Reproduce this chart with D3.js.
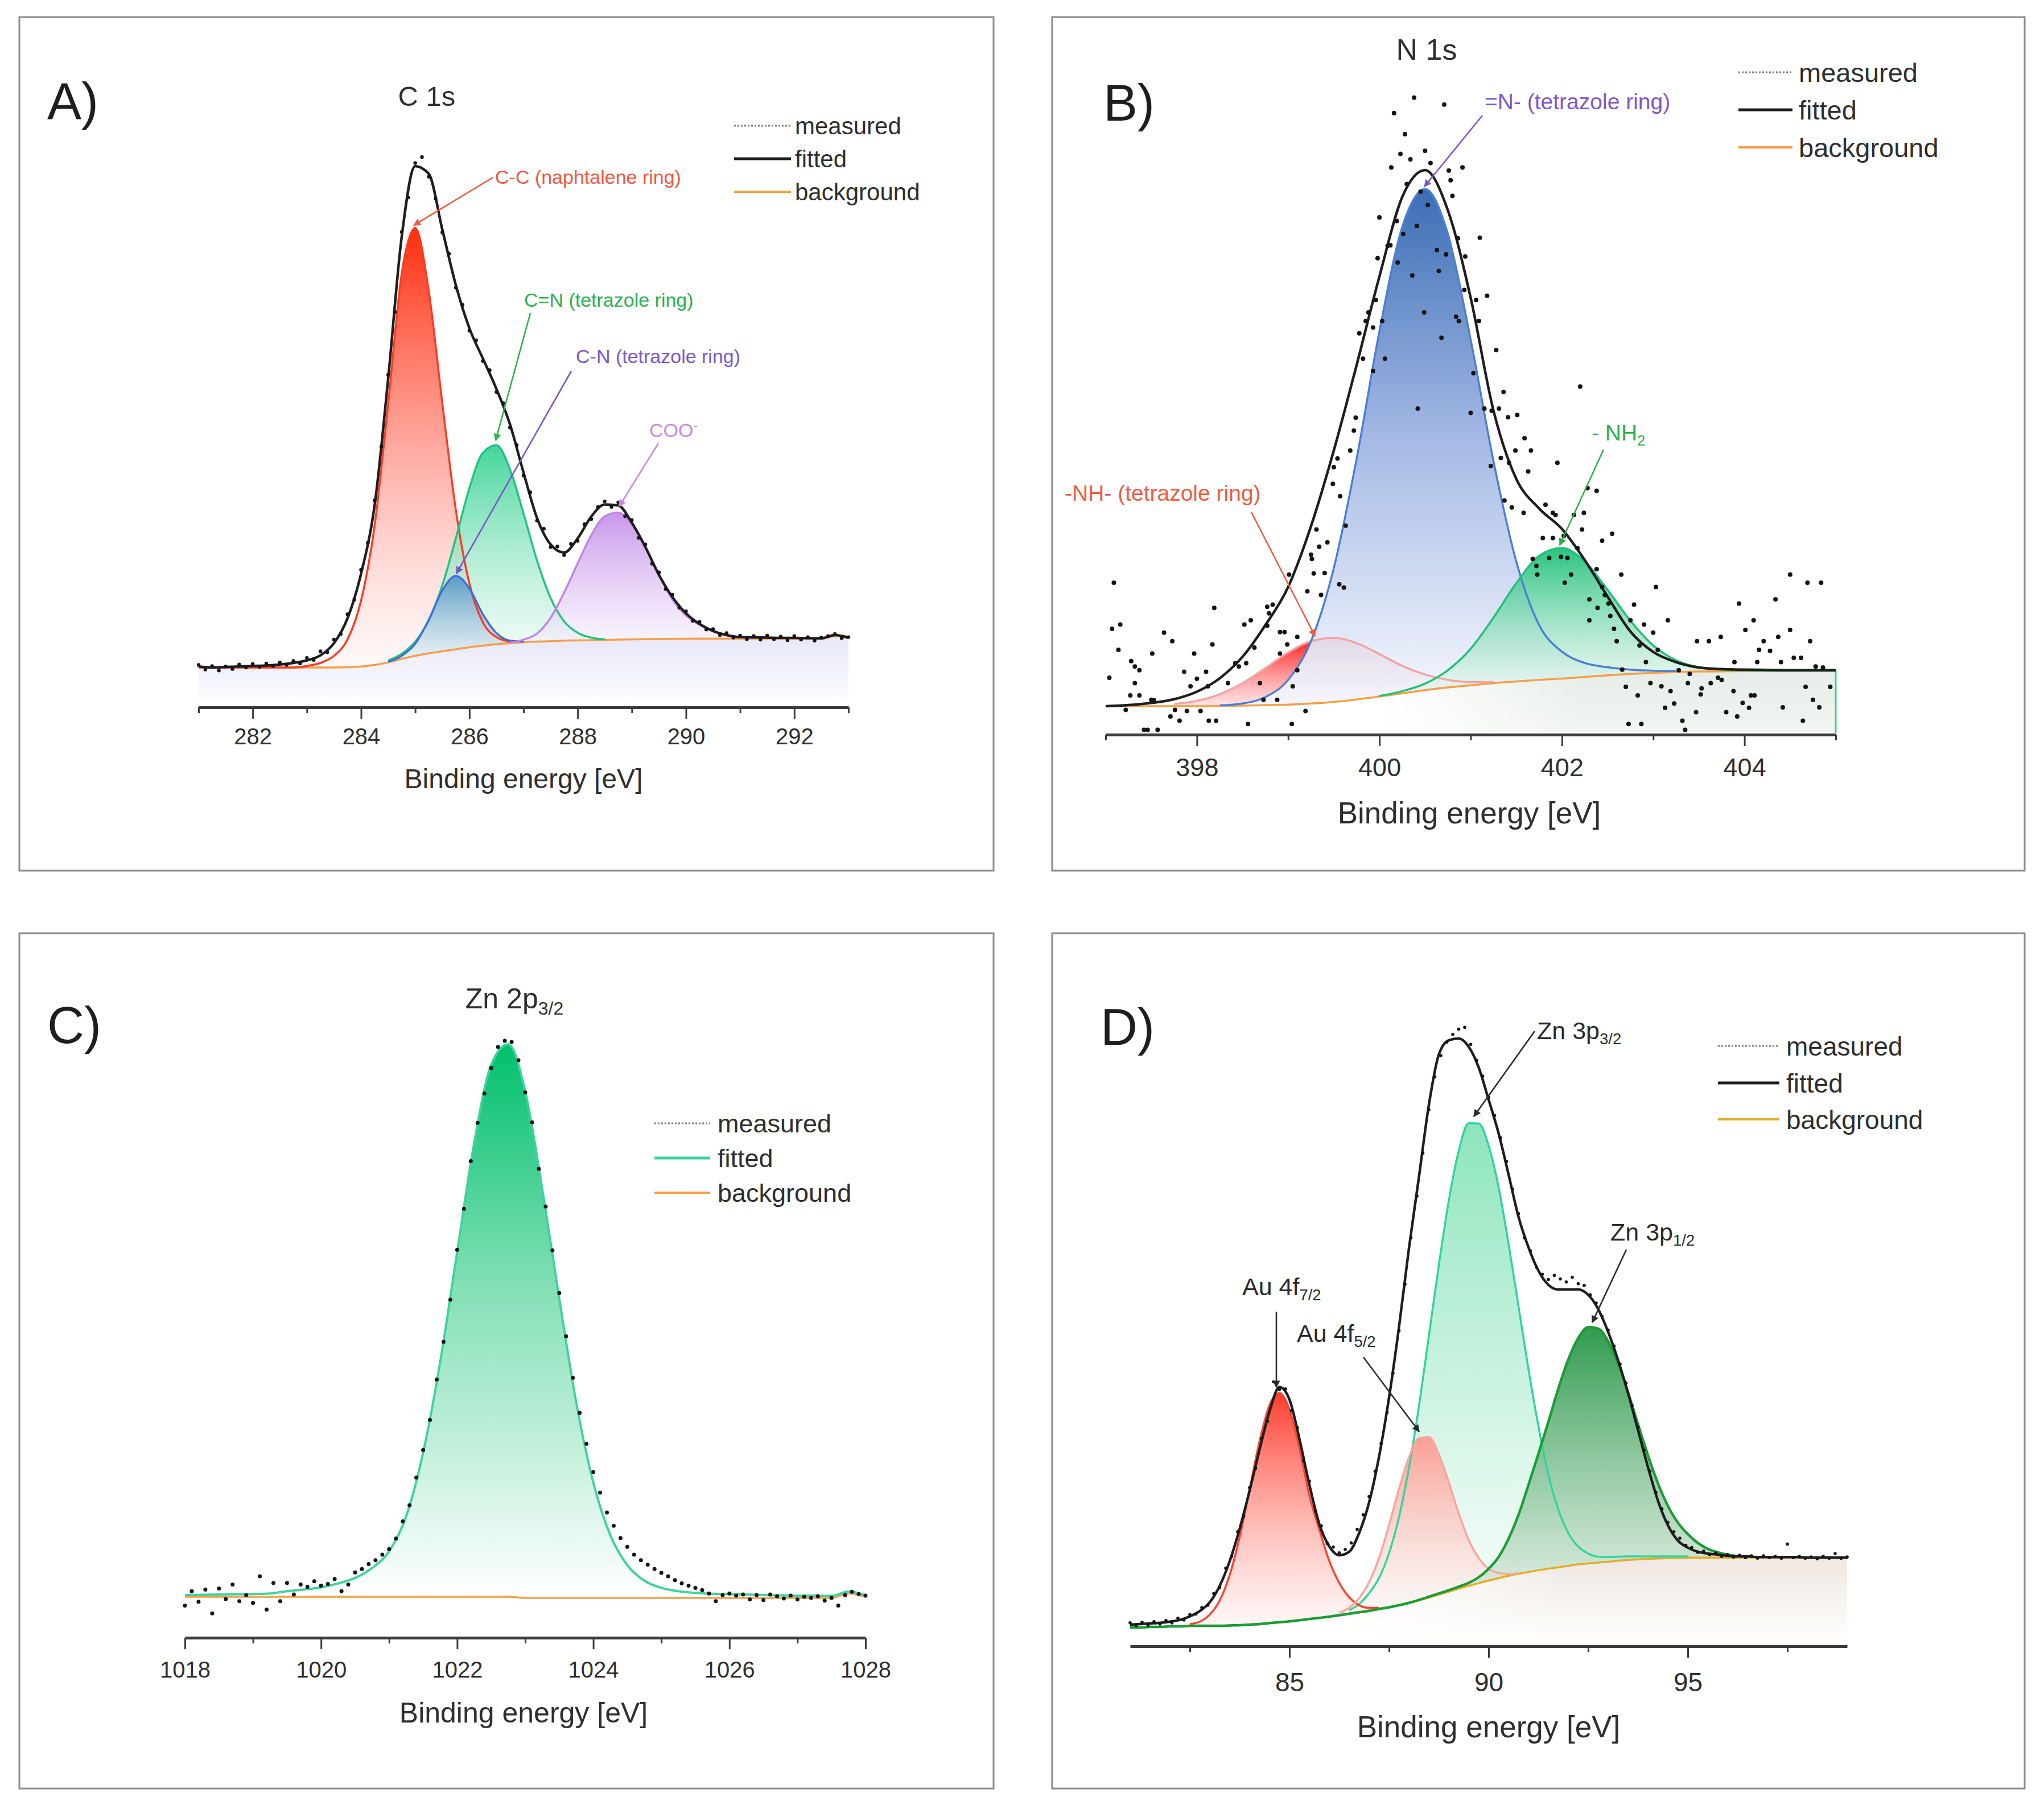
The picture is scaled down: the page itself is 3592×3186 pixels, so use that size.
<!DOCTYPE html>
<html>
<head>
<meta charset="utf-8">
<script src="https://cdn.jsdelivr.net/npm/d3@7"></script>
<style>
  body { margin: 0; background: #fff; }
  svg { display: block; }
</style>
</head>
<body>
<svg id="mainsvg" width="3592" height="3186"></svg>
<script>
// ---------------- A) C 1s ----------------
let c1sStart = 281, c1sStep = 0.25;
let c1sBackground = [0, 0, 0, 0, 0, 0, 0, 0, 0, 0, 0, 0.05,
  0.2, 0.5, 1.0, 1.7, 2.3, 2.8, 3.2, 3.6, 4.0, 4.3, 4.6, 4.8, 5.0, 5.1, 5.2, 5.3, 5.35, 5.4, 5.45, 5.5,
  5.55, 5.6, 5.62, 5.65, 5.68, 5.7, 5.7, 5.7, 5.7, 5.7, 5.7, 5.7, 5.7, 5.7, 5.7, 6.2, 5.8];
let c1sFitted = [0.2, 0.0, 0.1, 0.2, 0.3, 0.4, 0.6, 0.9, 1.4, 2.4, 4.8, 9.7, 18.5, 32, 57, 85, 99, 97.5,
  86.5, 75.5, 67, 61, 55, 48, 38.5, 29.5, 24.3, 22.7, 25.5, 29.8, 32.2, 32.0, 28.6, 23.8, 18.3, 13.9,
  10.7, 8.6, 7.2, 6.4, 6.0, 5.95, 5.9, 5.85, 5.85, 5.8, 5.75, 6.4, 5.9];
let c1sPeaks = [
  {name: "C-C", start: 281.0, values: [0, 0, 0, 0, 0, 0, 0, 0,
    0.3, 0.9, 2.3, 5.5, 13, 27.5, 51, 76, 84.5, 71.5, 49, 27.5, 12.6, 4.6, 1.4, 0.3]},
  {name: "C=N", start: 284.5, values: [0.4, 1.0, 2.8, 6.5, 13.0, 21.9, 31.4, 38.1, 39.3, 34.3, 25.4, 16.0, 8.5, 3.8, 1.5, 0.5, 0.1]},
  {name: "C-N", start: 284.5, values: [0.1, 0.6, 2.4, 6.6, 12.0, 14.5, 11.6, 6.2, 2.2, 0.5, 0.1]},
  {name: "COO", start: 286.75, values: [0.1, 0.5, 1.6, 4.6, 9.5, 15.2, 20.7, 24.4, 25.1, 22.7, 18.1, 12.7, 7.8, 4.6, 2.7, 1.5, 0.7, 0.3, 0.1]}
];
let c1sMeasuredStart = 281, c1sMeasuredStep = 0.125;
let c1sMeasured = [0.5, -0.4, 0.3, -0.6, 0.2, -0.3, 0.6, 0.0, 0.7, 0.1,
  0.8, 0.3, 1.0, 0.5, 1.3, 0.8, 1.9, 1.5, 3.2, 3.0,
  5.5, 6.6, 10.5, 13.4, 19.3, 24.6, 33.0, 43.6, 57.8, 70.2,
  86.0, 92.8, 99.6, 100.8, 96.9, 92.6, 85.9, 81.7, 75.0, 71.6,
  66.5, 64.6, 60.5, 58.7, 54.4, 52.2, 47.4, 43.9, 37.9, 34.6,
  29.0, 27.4, 23.8, 23.9, 22.2, 24.4, 25.0, 28.3, 29.3, 31.7,
  32.8, 31.7, 32.6, 29.9, 29.1, 25.6, 24.3, 20.5, 18.8, 15.5,
  14.4, 11.8, 11.1, 9.2, 9.0, 7.5, 7.6, 6.4, 6.8, 5.9,
  6.3, 5.6, 6.2, 5.5, 6.3, 5.6, 6.1, 5.4, 6.2, 5.5,
  6.0, 5.3, 5.9, 6.2, 6.6, 5.8, 6.0];

// ---------------- B) N 1s ----------------
let n1sStart = 397, n1sStep = 0.25;
let n1sBackground = [0, 0, 0, 0, 0, 0.05, 0.1, 0.2, 0.3, 0.5, 0.8, 1.25, 1.8, 2.4, 3.0, 3.5, 3.9, 4.3,
  4.6, 4.9, 5.15, 5.45, 5.75, 6.0, 6.2, 6.35, 6.45, 6.5, 6.55, 6.6, 6.6, 6.6, 6.6];
let n1sFitted = [0.0, 0.2, 0.6, 1.3, 2.7, 5.2, 9.2, 15.1, 22.2, 33.5, 47.6, 63.5, 80.0, 94.8, 99.8, 92.3,
  76.0, 55.0, 42.3, 36.8, 33.0, 27.2, 20.4, 13.9, 10.1, 8.2, 7.2, 6.9, 6.8, 6.75, 6.7, 6.7, 6.7];
let n1sPeaks = [
  {name: "-NH-", start: 397.75, values: [0.4, 1.0, 2.2, 4.2, 6.9, 9.7, 11.6, 11.9, 10.5, 7.9, 5.1, 2.9, 1.4, 0.6, 0.2]},
  {name: "=N-", start: 398.25, values: [0.1, 0.4, 1.5, 4.6, 11.6, 24.9, 44.8, 68.0, 86.8, 93.3, 84.4, 64.3, 41.3, 22.3, 10.2, 5.0, 2.6, 1.5, 0.8, 0.4, 0.2]},
  {name: "-NH2", start: 400.0, values: [0.1, 0.4, 1.2, 3.2, 6.8, 12.2, 18.3, 23.1, 24.3, 21.5, 15.9, 9.9, 5.1, 2.2, 0.8, 0.3, 0.1,
    0, 0, 0, 0]}
];
let n1sMeasured = [
  [400.38, 113.3], [400.71, 112.0], [400.16, 110.4], [400.28, 106.5], [400.23, 102.8], [400.34, 101.8],
  [400.50, 103.4], [400.56, 101.1], [400.13, 100.3], [400.76, 99.7], [400.91, 100.3], [400.78, 97.9],
  [400.30, 97.2], [400.80, 95.0], [400.45, 95.8], [400.53, 93.3], [400.00, 91.0], [400.19, 90.3],
  [400.41, 89.4], [400.26, 87.9], [400.86, 87.1], [400.09, 85.7], [400.12, 85.8], [400.63, 84.9],
  [400.73, 84.1], [400.94, 83.7], [399.98, 83.4], [400.20, 82.6], [400.65, 81.0], [400.36, 80.2],
  [400.93, 77.5], [399.96, 75.6], [399.88, 73.3], [399.85, 71.7], [400.49, 73.3], [400.84, 72.5],
  [400.87, 71.7], [400.03, 71.7], [399.93, 70.5], [399.78, 69.4], [400.68, 68.6], [399.82, 64.7],
  [400.06, 64.7], [399.93, 62.4], [401.03, 62.0], [400.42, 55.4], [401.00, 54.6], [399.74, 53.7],
  [399.72, 51.3], [399.68, 47.6], [399.54, 46.1], [399.50, 44.5], [399.49, 41.4], [399.57, 39.1],
  [399.63, 33.6], [399.31, 32.9], [399.43, 30.5], [399.34, 29.7], [399.25, 28.2], [399.26, 27.4],
  [399.28, 24.7], [399.40, 24.8], [399.01, 24.5], [399.56, 22.7], [399.61, 22.1], [397.09, 23.0],
  [399.21, 21.4], [399.36, 20.7], [398.19, 18.3], [398.77, 18.5], [398.83, 18.9], [398.79, 17.3],
  [398.59, 16.0], [398.52, 15.2], [397.16, 15.2], [397.07, 14.4], [398.77, 15.0], [397.64, 13.7],
  [397.73, 12.1], [398.96, 13.8], [398.91, 13.8], [398.63, 10.9], [399.10, 12.9], [398.17, 11.5],
  [398.99, 11.5], [397.14, 10.5], [397.51, 9.8], [397.97, 9.8], [398.91, 9.8], [398.54, 8.0],
  [397.28, 8.4], [397.32, 7.4], [398.42, 8.0], [398.46, 7.4], [397.37, 6.7], [397.86, 6.4],
  [398.10, 6.4], [399.10, 6.7], [397.04, 5.3], [398.00, 5.1], [398.12, 3.7], [398.34, 4.3],
  [398.69, 4.3], [397.32, 4.3], [397.93, 3.7], [399.05, 3.7], [397.27, 2.0], [397.37, 2.0],
  [397.50, 1.2], [397.53, 1.1], [398.73, 1.2], [398.88, 1.2], [397.22, -0.7], [397.76, -0.7],
  [397.89, -0.9], [398.04, -0.9], [399.19, -0.9], [397.71, -1.9], [397.81, -2.7], [398.13, -2.7],
  [398.21, -2.7], [398.56, -3.3], [399.04, -3.3], [397.42, -4.4], [397.46, -4.4], [397.57, -4.4],
  [401.10, 87.2], [401.06, 75.6], [401.18, 76.4], [401.09, 71.7], [401.28, 66.3], [401.36, 58.5],
  [402.20, 59.5], [401.15, 55.4], [401.23, 55.0], [401.31, 55.4], [401.41, 53.8], [401.51, 54.2],
  [401.59, 49.9], [401.49, 47.6], [401.66, 47.6], [401.22, 44.7], [401.33, 46.2], [401.42, 45.3],
  [401.63, 43.7], [401.95, 45.3], [402.28, 40.6], [402.38, 40.1], [401.37, 38.3], [401.45, 37.0],
  [401.58, 36.0], [401.82, 37.5], [401.90, 36.0], [401.93, 35.6], [402.13, 35.6], [402.24, 36.0],
  [402.22, 32.9], [402.55, 32.1], [402.44, 30.8], [401.79, 31.3], [401.90, 31.3], [402.02, 31.7],
  [402.17, 29.4], [401.68, 27.4], [401.86, 27.6], [401.99, 27.8], [402.06, 27.6], [401.72, 26.1],
  [402.10, 24.5], [402.65, 24.5], [402.03, 23.0], [401.73, 24.5], [402.38, 25.5], [402.47, 20.7],
  [402.44, 22.2], [402.30, 19.9], [403.03, 22.2], [402.51, 19.1], [402.79, 18.9], [402.39, 18.3],
  [402.30, 16.0], [402.53, 16.8], [403.16, 16.0], [402.75, 16.0], [404.50, 24.5], [404.69, 23.0],
  [404.84, 23.0], [403.94, 19.1], [404.34, 19.9], [402.57, 14.4], [402.90, 15.2], [403.00, 13.7],
  [404.10, 16.0], [404.01, 14.2], [404.50, 14.2], [402.60, 12.1], [402.85, 11.3], [403.48, 12.1],
  [403.61, 12.1], [403.74, 12.9], [404.21, 12.1], [404.37, 12.9], [404.72, 12.1], [404.16, 10.5],
  [404.28, 10.3], [403.05, 10.5], [402.92, 8.2], [402.66, 6.8], [403.89, 8.2], [404.14, 8.2],
  [404.40, 8.2], [404.54, 9.0], [404.62, 9.0], [404.78, 7.4], [404.86, 7.2], [403.28, 6.7],
  [403.40, 6.0], [403.71, 5.3], [403.75, 4.9], [402.70, 3.6], [402.97, 4.3], [403.09, 3.7],
  [403.19, 2.8], [403.38, 4.3], [403.53, 3.3], [403.63, 4.3], [403.88, 2.8], [404.67, 3.6],
  [404.94, 3.6], [402.83, 2.0], [403.23, 0.5], [403.52, 2.2], [404.07, 2.0], [404.11, 2.0],
  [403.98, 0.6], [404.05, -0.3], [404.75, 1.2], [403.13, -0.3], [404.42, -0.2], [404.82, -0.2],
  [403.47, -1.1], [403.80, -1.1], [403.92, -1.9], [403.32, -2.7], [404.64, -2.7], [402.73, -3.3],
  [402.87, -3.3], [403.35, -4.4]
];

// ---------------- C) Zn 2p3/2 ----------------
let zn2pStart = 1018, zn2pStep = 0.25;
let zn2pBackground = [0, 0, 0, 0, 0, 0, 0, 0, 0, 0, 0, 0, 0, 0, 0, 0, 0, 0, 0, 0,
  -0.2, -0.2, -0.2, -0.2, -0.2, -0.2, -0.2, -0.2, -0.2, -0.2, -0.2, -0.2, -0.2, -0.2, -0.2, -0.2, -0.2, -0.2, -0.2,
  0.6, 0.0];
let zn2pPeaks = [
  {name: "Zn2p", start: 1018, values: [0.3, 0.35, 0.4, 0.45, 0.5, 0.6, 1.0, 1.3, 1.7, 2.4, 3.4, 5.2, 8.2, 14.5,
    26.0, 42.3, 62.2, 81.9, 96.0, 99.7, 91.4, 73.8, 54.0, 35.2, 20.8, 11.3, 5.9, 3.1, 1.8, 1.2, 0.9, 0.75,
    0.65, 0.6, 0.5, 0.45, 0.4, 0.4, 0.35, 0.35, 0.3]}
];
let zn2pMeasuredStart = 1018, zn2pMeasuredStep = 0.1;
let zn2pMeasured = [-1.6, 1.0, -0.9, 1.3, -3.0, 1.5, -0.4, 2.2, -0.8, 0.3,
  -1.1, 3.7, -2.3, 2.5, -0.8, 2.5, 0.4, 2.2, 1.8, 2.8,
  2.0, 2.3, 3.2, 1.0, 2.2, 4.4, 5.0, 5.9, 6.6, 7.6,
  8.6, 10.5, 13.6, 16.5, 21.5, 26.5, 31.9, 39.2, 46.0, 53.6,
  62.6, 70.0, 78.6, 85.5, 90.8, 95.4, 99.2, 100.3, 100.1, 96.8,
  91.0, 85.6, 77.2, 70.4, 62.5, 54.8, 47.0, 39.5, 33.2, 27.6,
  22.5, 18.8, 15.2, 12.8, 10.6, 9.0, 7.6, 6.6, 5.8, 5.0,
  4.3, 3.7, 3.0, 2.4, 2.0, 1.6, 1.2, 0.6, -0.8, 0.3,
  0.6, 0.2, 0.4, -0.5, 0.3, -0.6, 0.4, 0.1, -0.3, 0.2,
  -0.5, 0.0, -0.2, 0.1, -0.7, -0.2, -1.6, 0.3, 0.9, 0.5,
  0.2];

// ---------------- D) Au 4f / Zn 3p ----------------
let zn3pStart = 81, zn3pStep = 0.25;
let zn3pBackground = [-0.3, -0.3, -0.2, -0.2, -0.1, -0.1, 0, 0, 0, 0, 0.05, 0.1,
  0.2, 0.3, 0.45, 0.6, 0.75, 0.95, 1.15, 1.35, 1.55, 1.8, 2.05, 2.3, 2.55, 2.85, 3.15, 3.5, 3.85, 4.3,
  4.8, 5.3, 5.8, 6.3, 6.8, 7.25, 7.7, 8.1, 8.5, 8.85, 9.15, 9.45, 9.7, 9.95, 10.2, 10.45, 10.6, 10.75,
  10.9, 11.05, 11.2, 11.3, 11.4, 11.45, 11.5, 11.55, 11.6,
  11.6, 11.6, 11.6, 11.6, 11.6, 11.6, 11.6, 11.6, 11.6, 11.6, 11.6, 11.6, 11.6, 11.6, 11.6, 11.6];
let zn3pFitted = [0.2, 0.3, 0.4, 0.5, 0.7, 1.0, 1.6, 2.5, 4.0, 6.8, 11.0, 16.5, 23.0, 30.0, 36.5, 40.6,
  38.5, 31.8, 24.0, 17.3, 13.5, 12.0, 12.6, 15.8, 21.0, 28.8, 38.8, 50.8, 64.2, 76.3, 88.6, 97.2, 99.6,
  99.9, 98.5, 95.0, 89.5, 83.8, 76.8, 69.6, 64.4, 60.4, 58.0, 57.2, 57.2, 57.2, 56.3, 53.9, 50.0, 45.2,
  39.6, 33.3, 27.0, 21.3, 17.1, 14.5, 13.3, 12.6, 12.3, 12.1, 11.9,
  11.8, 11.8, 11.7, 11.7, 11.7, 11.7, 11.7, 11.6, 11.6, 11.6, 11.6, 11.6];
let zn3pPeaks = [
  {name: "Zn3p3/2", start: 86.5, values: [0.6, 1.4, 3.0, 5.3, 9.2, 15.0, 23.0, 33.0, 44.5, 56.0, 66.5, 74.5,
    78.7, 78.2, 74.0, 66.5, 56.5, 45.5, 34.5, 24.5, 16.0, 9.8, 5.6, 3.0, 1.7, 1.0, 0.8, 0.7, 0.6, 0.5,
    0.4, 0.35, 0.3, 0.25, 0.2]},
  {name: "Au4f7/2", start: 82.5, values: [0.3, 0.7, 1.9, 4.3, 8.6, 15.0, 23.0, 31.1, 37.1, 39.0, 36.0, 29.3,
    21.0, 15.0, 9.5, 5.5, 2.8, 1.2, 0.5, 0.2]},
  {name: "Au4f5/2", start: 86.25, values: [0.4, 1.0, 2.4, 4.9, 8.7, 14.0, 19.8, 24.8, 27.6, 27.3, 23.9, 18.6,
    12.8, 7.8, 4.3, 2.0, 0.9, 0.3, 0.1]},
  {name: "Zn3p1/2", start: 81, values: [0, 0, 0, 0, 0, 0, 0, 0, 0, 0, 0, 0, 0, 0, 0, 0, 0, 0, 0, 0,
    0, 0, 0, 0, 0, 0, 0, 0, 0.05, 0.1, 0.15, 0.2, 0.25, 0.35,
    0.5, 1.0, 2.0, 3.6, 6.3, 10.0, 14.8, 19.8, 25.0, 30.4, 35.1, 38.5,
    40.2, 39.8, 37.5, 33.5, 28.5, 23.0, 17.6, 12.8, 8.9, 6.0, 4.0, 2.5, 1.5, 0.9, 0.5, 0.25, 0.1]}
];
let zn3pMeasuredStart = 81, zn3pMeasuredStep = 0.15;
let zn3pMeasured = [0.5, 0.0, 0.6, 0.1, 0.7, 0.3, 0.9, 0.5, 1.3, 1.0,
  1.9, 2.0, 3.1, 3.5, 5.5, 6.5, 9.8, 11.8, 16.0, 18.6,
  23.5, 26.8, 31.9, 34.8, 41.5, 40.2, 40.3, 36.6, 33.7, 28.1,
  24.6, 19.5, 17.0, 14.0, 13.4, 12.4, 13.0, 14.1, 16.4, 18.9,
  22.0, 26.3, 31.0, 36.3, 43.0, 50.2, 58.1, 66.0, 73.1, 80.4,
  87.8, 93.4, 97.0, 99.3, 100.6, 101.5, 101.8, 98.9, 96.2, 93.5,
  89.9, 86.8, 83.0, 79.0, 74.3, 70.1, 66.0, 63.8, 61.0, 59.8,
  58.9, 59.6, 59.0, 58.5, 59.3, 58.2, 57.9, 56.3, 54.9, 52.6,
  50.3, 47.6, 44.5, 41.3, 37.5, 33.8, 29.9, 26.3, 22.7, 19.9,
  17.6, 16.0, 14.9, 13.7, 13.3, 12.5, 12.7, 12.1, 12.4, 11.8,
  12.1, 11.7, 12.0, 11.6, 11.9, 11.5, 11.9, 11.6, 11.8, 11.5,
  13.9, 11.6, 11.8, 11.5, 11.7, 11.4, 11.8, 11.5, 12.3, 11.5, 11.7];

// ---------------- drawing ----------------
let svg = d3.select("#mainsvg");
let defs = svg.append("defs");
let fontFamily = '"Liberation Sans", Arial, Helvetica, sans-serif';
let textColor = "#2e2e2e";

function gradient(id, stops, horizontal) {
    let lg = defs.append("linearGradient").attr("id", id)
        .attr("x1", 0).attr("y1", 0)
        .attr("x2", horizontal ? 1 : 0).attr("y2", horizontal ? 0 : 1);
    stops.forEach(s => {
        lg.append("stop").attr("offset", s[0]).attr("stop-color", s[1]).attr("stop-opacity", s[2]);
    });
    return "url(#" + id + ")";
}

let markerCount = 0;
function arrowMarker(color) {
    let id = "arrow-" + (markerCount++);
    let m = defs.append("marker").attr("id", id)
        .attr("viewBox", "0 0 10 10").attr("refX", 9).attr("refY", 5)
        .attr("markerWidth", 6).attr("markerHeight", 5).attr("orient", "auto");
    m.append("path").attr("d", "M0,0L10,5L0,10Z").attr("fill", color);
    return "url(#" + id + ")";
}

function richText(sel, parts, size) {
    parts.forEach(p => {
        let ts = sel.append("tspan").text(p.t);
        if (p.sub) ts.attr("font-size", size * 0.64).attr("dy", size * 0.22);
        if (p.sup) ts.attr("font-size", size * 0.64).attr("dy", -size * 0.38);
    });
}

function drawPanel(cfg, d) {
    let g = svg.append("g").attr("id", "panel-" + cfg.id).attr("font-family", fontFamily);
    let f = cfg.frame;
    g.append("rect").attr("x", f[0]).attr("y", f[1]).attr("width", f[2] - f[0]).attr("height", f[3] - f[1])
        .attr("fill", "#fff").attr("stroke", "#8c8c8c").attr("stroke-width", 3);

    let x = d3.scaleLinear().domain(cfg.xDomain).range(cfg.xRange);
    let y = d3.scaleLinear().domain([0, 100]).range([cfg.y0, cfg.y100]);
    let curve = d3.curveMonotoneX;
    let bg = d.background.map((v, i) => ({e: d.start + i * d.step, v: v}));

    // tint below the background line (fades downwards, optionally fades in from the left)
    if (cfg.under) {
        let U = cfg.under;
        let u = bg.filter(p => p.e >= U.from - 1e-6 && p.e <= U.to + 1e-6);
        let fill = gradient("under-" + cfg.id, U.stops, false);
        let area = g.append("path").datum(u)
            .attr("d", d3.area().x(p => x(p.e)).y0(cfg.axisY - 4).y1(p => y(p.v)).curve(curve))
            .attr("fill", fill);
        if (U.fade) {
            let mid = "mask-" + cfg.id;
            let x0 = x(U.from), x1 = x(U.to);
            let mask = defs.append("mask").attr("id", mid).attr("maskUnits", "userSpaceOnUse")
                .attr("x", x0).attr("y", cfg.y100).attr("width", x1 - x0).attr("height", cfg.axisY - cfg.y100);
            mask.append("rect").attr("x", x0).attr("y", cfg.y100).attr("width", x1 - x0)
                .attr("height", cfg.axisY - cfg.y100)
                .attr("fill", gradient("maskgrad-" + cfg.id, [[0, "#fff", 0], [U.fade, "#fff", 1], [1, "#fff", 1]], true));
            area.attr("mask", "url(#" + mid + ")");
        }
    }

    let peakPts = d.peaks.map(pk => {
        let off = Math.round((pk.start - d.start) / d.step);
        return pk.values.map((v, i) => ({e: pk.start + i * d.step, b: bg[off + i].v, v: bg[off + i].v + v}));
    });
    // fills
    d.peaks.forEach((pk, k) => {
        let st = cfg.styles[pk.name];
        let fill = gradient("peak-" + cfg.id + "-" + k, st.stops, false);
        g.append("path").datum(peakPts[k])
            .attr("d", d3.area().x(p => x(p.e)).y0(p => y(p.b)).y1(p => y(p.v)).curve(curve))
            .attr("fill", fill);
    });
    if (cfg.edgeLine) {
        let last = bg[bg.length - 1];
        g.append("line").attr("x1", x(last.e)).attr("x2", x(last.e))
            .attr("y1", y(last.v)).attr("y2", cfg.axisY - 3)
            .attr("stroke", cfg.edgeLine).attr("stroke-width", 3);
    }
    // background
    g.append("path").datum(bg)
        .attr("d", d3.line().x(p => x(p.e)).y(p => y(p.v)).curve(curve))
        .attr("fill", "none").attr("stroke", cfg.bgColor).attr("stroke-width", 3.5);
    // outlines
    d.peaks.forEach((pk, k) => {
        let st = cfg.styles[pk.name];
        g.append("path").datum(peakPts[k])
            .attr("d", d3.line().x(p => x(p.e)).y(p => y(p.v)).curve(curve))
            .attr("fill", "none").attr("stroke", st.line).attr("stroke-width", st.width || 3.5);
    });
    // fitted envelope
    if (d.fitted) {
        let fit = d.fitted.map((v, i) => ({e: d.start + i * d.step, v: v}));
        g.append("path").datum(fit)
            .attr("d", d3.line().x(p => x(p.e)).y(p => y(p.v)).curve(curve))
            .attr("fill", "none").attr("stroke", cfg.fittedColor).attr("stroke-width", 4.5);
    }
    // measured points
    let meas = d.measuredPairs ? d.measuredPairs.map(p => ({e: p[0], v: p[1]}))
        : d.measured.map((v, i) => ({e: d.measuredStart + i * d.measuredStep, v: v}));
    g.append("g").selectAll("circle").data(meas).enter().append("circle")
        .attr("cx", p => x(p.e)).attr("cy", p => y(p.v)).attr("r", cfg.dotR)
        .attr("fill", "#141414");

    // x axis
    let t = cfg.ticks;
    let tickVals = d3.range(t.from, t.to + 1e-6, t.step);
    let isMajor = v => Math.abs(v / t.labelEvery - Math.round(v / t.labelEvery)) < 1e-6;
    let axis = d3.axisBottom(x).tickValues(tickVals).tickSizeInner(10).tickSizeOuter(0)
        .tickFormat(v => isMajor(v) ? d3.format("d")(v) : "");
    let ag = g.append("g").attr("transform", "translate(0," + cfg.axisY + ")").call(axis);
    ag.attr("font-family", fontFamily);
    ag.select(".domain").attr("stroke", "#3c3c3c").attr("stroke-width", 5);
    ag.selectAll(".tick line").attr("stroke", "#3c3c3c").attr("stroke-width", 3)
        .attr("y2", v => isMajor(v) ? 20 : 10);
    ag.selectAll(".tick text").attr("font-size", t.font).attr("fill", textColor)
        .attr("y", t.labelY - cfg.axisY).attr("dy", 0);

    g.append("text").attr("x", cfg.xLabel.x).attr("y", cfg.xLabel.y).attr("text-anchor", "middle")
        .attr("font-size", cfg.xLabel.size).attr("fill", textColor).text("Binding energy [eV]");

    g.append("text").attr("x", cfg.letter.x).attr("y", cfg.letter.y).attr("font-size", 90)
        .attr("fill", "#1e1e1e").text(cfg.letter.text);

    if (cfg.title) {
        let title = g.append("text").attr("x", cfg.title.x).attr("y", cfg.title.y).attr("text-anchor", "middle")
            .attr("font-size", cfg.title.size).attr("fill", textColor);
        richText(title, cfg.title.parts, cfg.title.size);
    }

    // legend
    let L = cfg.legend;
    let items = [
        {label: "measured", color: "#7a7a7a", dash: "3,3", w: 3},
        {label: "fitted", color: L.fitted, dash: null, w: 5},
        {label: "background", color: cfg.bgColor, dash: null, w: 4}
    ];
    items.forEach((it, i) => {
        let ry = L.rows[i];
        g.append("line").attr("x1", L.x0).attr("x2", L.x1).attr("y1", ry).attr("y2", ry)
            .attr("stroke", it.color).attr("stroke-width", it.w)
            .attr("stroke-dasharray", it.dash);
        g.append("text").attr("x", L.tx).attr("y", ry + L.size * 0.36).attr("font-size", L.size)
            .attr("fill", textColor).text(it.label);
    });

    // annotations
    (cfg.notes || []).forEach(n => {
        g.append("line").attr("x1", n.arrow[0]).attr("y1", n.arrow[1]).attr("x2", n.arrow[2]).attr("y2", n.arrow[3])
            .attr("stroke", n.color).attr("stroke-width", 2.6).attr("marker-end", arrowMarker(n.color));
        let tx = g.append("text").attr("x", n.x).attr("y", n.y).attr("font-size", n.size).attr("fill", n.color);
        richText(tx, n.parts, n.size);
    });
}

// ---------------- layouts ----------------
let layoutA = {
    id: "A", frame: [34, 30, 1746, 1530], xDomain: [281, 293], xRange: [349, 1491],
    y0: 1173, y100: 283, axisY: 1243,
    ticks: {from: 281, to: 293, step: 1, labelEvery: 2, font: 40, labelY: 1308},
    xLabel: {x: 920, y: 1385, size: 48},
    letter: {text: "A)", x: 83, y: 209},
    title: {parts: [{t: "C 1s"}], x: 750, y: 186, size: 49},
    legend: {x0: 1290, x1: 1390, tx: 1397, rows: [221, 279, 337], size: 42, fitted: "#1e1e1e"},
    under: {from: 281, to: 293, fade: 0, stops: [[0, "#e9e7f8", 1], [0.75, "#f8f8fd", 1], [1, "#ffffff", 1]]},
    bgColor: "#f59f4a", fittedColor: "#1e1e1e", dotR: 3.2,
    styles: {
        "C-C": {line: "#ff3a22", stops: [[0, "#ff2200", 0.95], [0.55, "#ff9a90", 0.75], [1, "#fff0f0", 0.45]]},
        "C=N": {line: "#1ec47f", stops: [[0, "#2fd190", 0.9], [1, "#eefaf4", 0.5]]},
        "C-N": {line: "#3f6fd6", stops: [[0, "#4f93c4", 0.9], [1, "#e6eef8", 0.55]]},
        "COO": {line: "#c084e6", stops: [[0, "#c28ae8", 0.9], [1, "#f4ecfb", 0.55]]}
    },
    notes: [
        {parts: [{t: "C-C (naphtalene ring)"}], x: 870, y: 323, size: 34, color: "#f2563f", arrow: [866, 312, 727, 396]},
        {parts: [{t: "C=N (tetrazole ring)"}], x: 921, y: 539, size: 34, color: "#2bb24c", arrow: [932, 550, 871, 774]},
        {parts: [{t: "C-N (tetrazole ring)"}], x: 1012, y: 638, size: 34, color: "#7b55c9", arrow: [1004, 652, 802, 1008]},
        {parts: [{t: "COO"}, {t: "-", sup: true}], x: 1141, y: 768, size: 34, color: "#c987e6", arrow: [1157, 779, 1088, 890]}
    ]
};

let layoutB = {
    id: "B", frame: [1849, 30, 3558, 1530], xDomain: [397, 405], xRange: [1943, 3226],
    y0: 1241, y100: 297, axisY: 1291,
    ticks: {from: 397, to: 405, step: 1, labelEvery: 2, font: 45, labelY: 1364},
    xLabel: {x: 2582, y: 1447, size: 53},
    letter: {text: "B)", x: 1939, y: 212},
    title: {parts: [{t: "N 1s"}], x: 2507, y: 105, size: 52},
    legend: {x0: 3055, x1: 3150, tx: 3161, rows: [127, 193, 259], size: 47, fitted: "#1e1e1e"},
    under: {from: 400, to: 405, fade: 0.45, stops: [[0, "#e6ede8", 1], [1, "#f2f5f2", 1]]},
    edgeLine: "#3fcf8e",
    bgColor: "#f59f4a", fittedColor: "#1e1e1e", dotR: 4,
    styles: {
        "-NH-": {line: "#f3a3a3", stops: [[0, "#ff1c1c", 1], [1, "#ffd9d9", 0.7]]},
        "=N-": {line: "#4b7fd2", stops: [[0, "#3a6db5", 1], [0.5, "#a3b8e4", 0.95], [1, "#f6f8fe", 0.92]]},
        "-NH2": {line: "#20c078", stops: [[0, "#1fc07a", 0.95], [1, "#eef8f2", 0.6]]}
    },
    notes: [
        {parts: [{t: "=N- (tetrazole ring)"}], x: 2609, y: 192, size: 39, color: "#8155c8", arrow: [2605, 203, 2503, 328]},
        {parts: [{t: "-NH- (tetrazole ring)"}], x: 1871, y: 880, size: 39, color: "#f25a40", arrow: [2199, 900, 2311, 1118]},
        {parts: [{t: "- NH"}, {t: "2", sub: true}], x: 2797, y: 774, size: 39, color: "#2ab04a", arrow: [2818, 790, 2741, 958]}
    ]
};

let layoutC = {
    id: "C", frame: [34, 1640, 1746, 3143], xDomain: [1018, 1028], xRange: [325, 1521],
    y0: 2806, y100: 1832, axisY: 2878,
    ticks: {from: 1018, to: 1028, step: 1, labelEvery: 2, font: 40, labelY: 2948},
    xLabel: {x: 920, y: 3027, size: 50},
    letter: {text: "C)", x: 83, y: 1833},
    title: {parts: [{t: "Zn 2p"}, {t: "3/2", sub: true}], x: 904, y: 1772, size: 50},
    legend: {x0: 1150, x1: 1248, tx: 1261, rows: [1974, 2035, 2096], size: 45, fitted: "#3ed49c"},
    bgColor: "#f5a04c", fittedColor: "#3ed49c", dotR: 3.5,
    styles: {
        "Zn2p": {line: "#3ed49c", width: 4, stops: [[0, "#00c06c", 1], [0.45, "#86e0b8", 1], [1, "#ffffff", 1]]}
    },
    notes: []
};

let layoutD = {
    id: "D", frame: [1849, 1640, 3558, 3143], xDomain: [81, 99], xRange: [1986, 3246],
    y0: 2857, y100: 1824, axisY: 2893,
    ticks: {from: 82.5, to: 97.5, step: 2.5, labelEvery: 5, font: 46, labelY: 2972},
    xLabel: {x: 2616, y: 3053, size: 53},
    letter: {text: "D)", x: 1934, y: 1836},
    title: null,
    legend: {x0: 3019, x1: 3127, tx: 3139, rows: [1838, 1903, 1967], size: 46, fitted: "#1e1e1e"},
    under: {from: 86, to: 99, fade: 0.45, stops: [[0, "#efe8e1", 1], [0.7, "#faf8f5", 1], [1, "#ffffff", 1]]},
    bgColor: "#e4ad2a", fittedColor: "#1e1e1e", dotR: 2.8,
    styles: {
        "Zn3p3/2": {line: "#2fd59c", stops: [[0, "#86e3b9", 0.95], [1, "#f4fcf8", 0.7]]},
        "Au4f7/2": {line: "#ff4030", stops: [[0, "#ff3222", 0.95], [1, "#fff0ee", 0.5]]},
        "Au4f5/2": {line: "#f8a59d", stops: [[0, "#ff978e", 0.92], [1, "#fff4f3", 0.5]]},
        "Zn3p1/2": {line: "#1b9c35", width: 4.5, stops: [[0, "#259646", 0.95], [1, "#eef2ee", 0.75]]}
    },
    notes: [
        {parts: [{t: "Au 4f"}, {t: "7/2", sub: true}], x: 2183, y: 2276, size: 43, color: "#2a2a2a", arrow: [2243, 2305, 2243, 2438]},
        {parts: [{t: "Au 4f"}, {t: "5/2", sub: true}], x: 2279, y: 2358, size: 43, color: "#2a2a2a", arrow: [2396, 2385, 2494, 2516]},
        {parts: [{t: "Zn 3p"}, {t: "3/2", sub: true}], x: 2701, y: 1826, size: 43, color: "#2a2a2a", arrow: [2697, 1812, 2590, 1962]},
        {parts: [{t: "Zn 3p"}, {t: "1/2", sub: true}], x: 2830, y: 2180, size: 43, color: "#2a2a2a", arrow: [2858, 2196, 2798, 2324]}
    ]
};

drawPanel(layoutA, {start: c1sStart, step: c1sStep, background: c1sBackground, fitted: c1sFitted,
    peaks: c1sPeaks, measured: c1sMeasured, measuredStart: c1sMeasuredStart, measuredStep: c1sMeasuredStep});
drawPanel(layoutB, {start: n1sStart, step: n1sStep, background: n1sBackground, fitted: n1sFitted,
    peaks: n1sPeaks, measuredPairs: n1sMeasured});
drawPanel(layoutC, {start: zn2pStart, step: zn2pStep, background: zn2pBackground, fitted: null,
    peaks: zn2pPeaks, measured: zn2pMeasured, measuredStart: zn2pMeasuredStart, measuredStep: zn2pMeasuredStep});
drawPanel(layoutD, {start: zn3pStart, step: zn3pStep, background: zn3pBackground, fitted: zn3pFitted,
    peaks: zn3pPeaks, measured: zn3pMeasured, measuredStart: zn3pMeasuredStart, measuredStep: zn3pMeasuredStep});
</script>
</body>
</html>
